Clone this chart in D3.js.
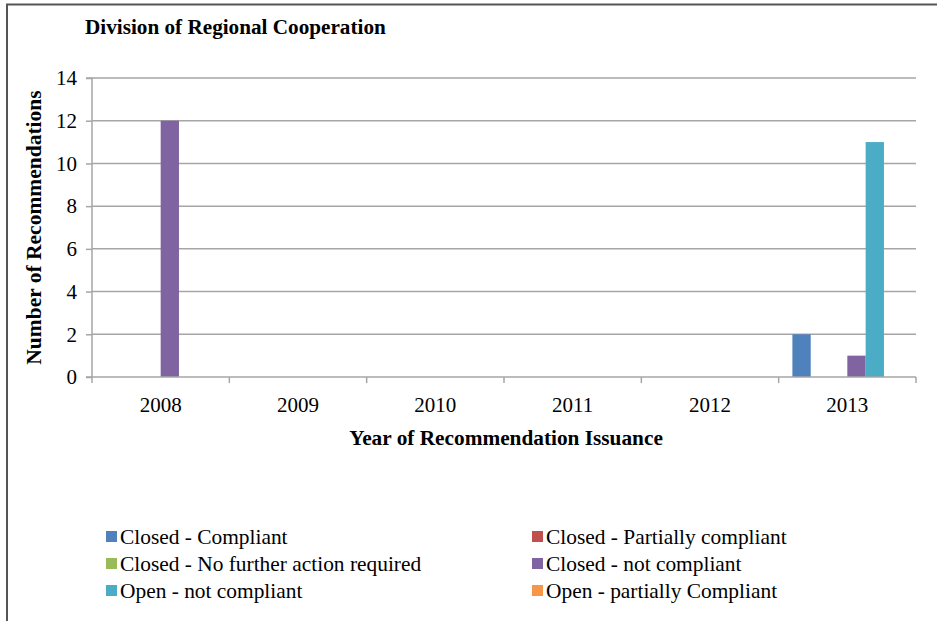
<!DOCTYPE html>
<html><head><meta charset="utf-8">
<script src="https://cdn.jsdelivr.net/npm/d3@7"></script>
<style>body{margin:0;background:#fff;}svg{display:block;font-family:"Liberation Serif","Times New Roman",serif;}</style>
</head><body>
<script>
const years = ["2008","2009","2010","2011","2012","2013"];
const seriesNames = ["Closed - Compliant","Closed - Partially compliant","Closed - No further action required","Closed - not compliant","Open - not compliant","Open - partially Compliant"];
const seriesColors = ["#4F81BD","#C0504D","#9BBB59","#8064A2","#4BACC6","#F79646"];
const closedCompliant = [0,0,0,0,0,2];
const closedPartial = [0,0,0,0,0,0];
const closedNoFurther = [0,0,0,0,0,0];
const closedNotCompliant = [12,0,0,0,0,1];
const openNotCompliant = [0,0,0,0,0,11];
const openPartial = [0,0,0,0,0,0];
const yTicks = [0,2,4,6,8,10,12,14];
const seriesValues = [closedCompliant,closedPartial,closedNoFurther,closedNotCompliant,openNotCompliant,openPartial];

const W=937,H=621;
const svg=d3.select("body").append("svg").attr("width",W).attr("height",H);
svg.append("path").attr("d","M7,"+H+" V4.5 H"+W).attr("fill","none").attr("stroke","#555").attr("stroke-width",2);

const L=92,R=916,T=78,B=377;
const x=d3.scaleBand().domain(years).range([L,R]).paddingInner(0).paddingOuter(0);
const bw=x.bandwidth()/7.5;
const xs=d3.scaleBand().domain(d3.range(6)).range([bw*0.75,x.bandwidth()-bw*0.75]);
const y=d3.scaleLinear().domain([0,14]).range([B,T]);

svg.append("text").attr("x",85).attr("y",34).attr("font-weight","bold").attr("font-size",21.2).text("Division of Regional Cooperation");

// gridlines
svg.append("g").selectAll("line").data(yTicks.filter(d=>d>0)).join("line")
 .attr("x1",L).attr("x2",R).attr("y1",d=>y(d)).attr("y2",d=>y(d)).attr("stroke","#A6A6A6").attr("stroke-width",1.5);

// bars
seriesValues.forEach((vals,si)=>{
  svg.append("g").selectAll("rect").data(vals.map((v,i)=>({v,yr:years[i]})).filter(d=>d.v>0)).join("rect")
   .attr("x",d=>x(d.yr)+xs(si)).attr("width",xs.bandwidth())
   .attr("y",d=>y(d.v)).attr("height",d=>B-y(d.v)).attr("fill",seriesColors[si]);
});

// y axis
const ya=svg.append("g").attr("transform",`translate(${L},0)`).call(d3.axisLeft(y).tickValues(yTicks).tickSize(6).tickPadding(9));
ya.selectAll("text").attr("font-size",21).attr("font-family","Liberation Serif, serif").attr("fill","#000");
ya.selectAll("line,path").attr("stroke","#A6A6A6").attr("stroke-width",1.5);
ya.select(".domain").attr("d",`M-6,${T}H0V${B}H-6`);

// x axis
const xa=svg.append("g").attr("transform",`translate(0,${B})`).call(d3.axisBottom(x).tickSize(0).tickPadding(20));
xa.selectAll("text").attr("font-size",21).attr("font-family","Liberation Serif, serif").attr("fill","#000");
xa.select(".domain").attr("d",`M${L},0H${R}`).attr("stroke","#A6A6A6").attr("stroke-width",1.5);
xa.append("g").selectAll("line").data(years.concat(["end"])).join("line")
 .attr("x1",(d,i)=>i<years.length?x(d):R).attr("x2",(d,i)=>i<years.length?x(d):R)
 .attr("y1",0).attr("y2",6).attr("stroke","#A6A6A6").attr("stroke-width",1.5);

svg.append("text").attr("x",(L+R)/2+2).attr("y",445).attr("text-anchor","middle").attr("font-weight","bold").attr("font-size",21.3).text("Year of Recommendation Issuance");
svg.append("text").attr("transform",`translate(41,${(T+B)/2}) rotate(-90)`).attr("text-anchor","middle").attr("font-weight","bold").attr("font-size",21.5).text("Number of Recommendations");

// legend
const lg=svg.append("g");
seriesNames.forEach((n,i)=>{
  const col=i%2,row=Math.floor(i/2);
  const lx=col===0?106:532, ly=537+row*27;
  lg.append("rect").attr("x",lx).attr("y",ly-6).attr("width",11).attr("height",11).attr("fill",seriesColors[i]);
  lg.append("text").attr("x",lx+14).attr("y",ly+7).attr("font-size",21.4).text(n);
});
</script>
</body></html>
